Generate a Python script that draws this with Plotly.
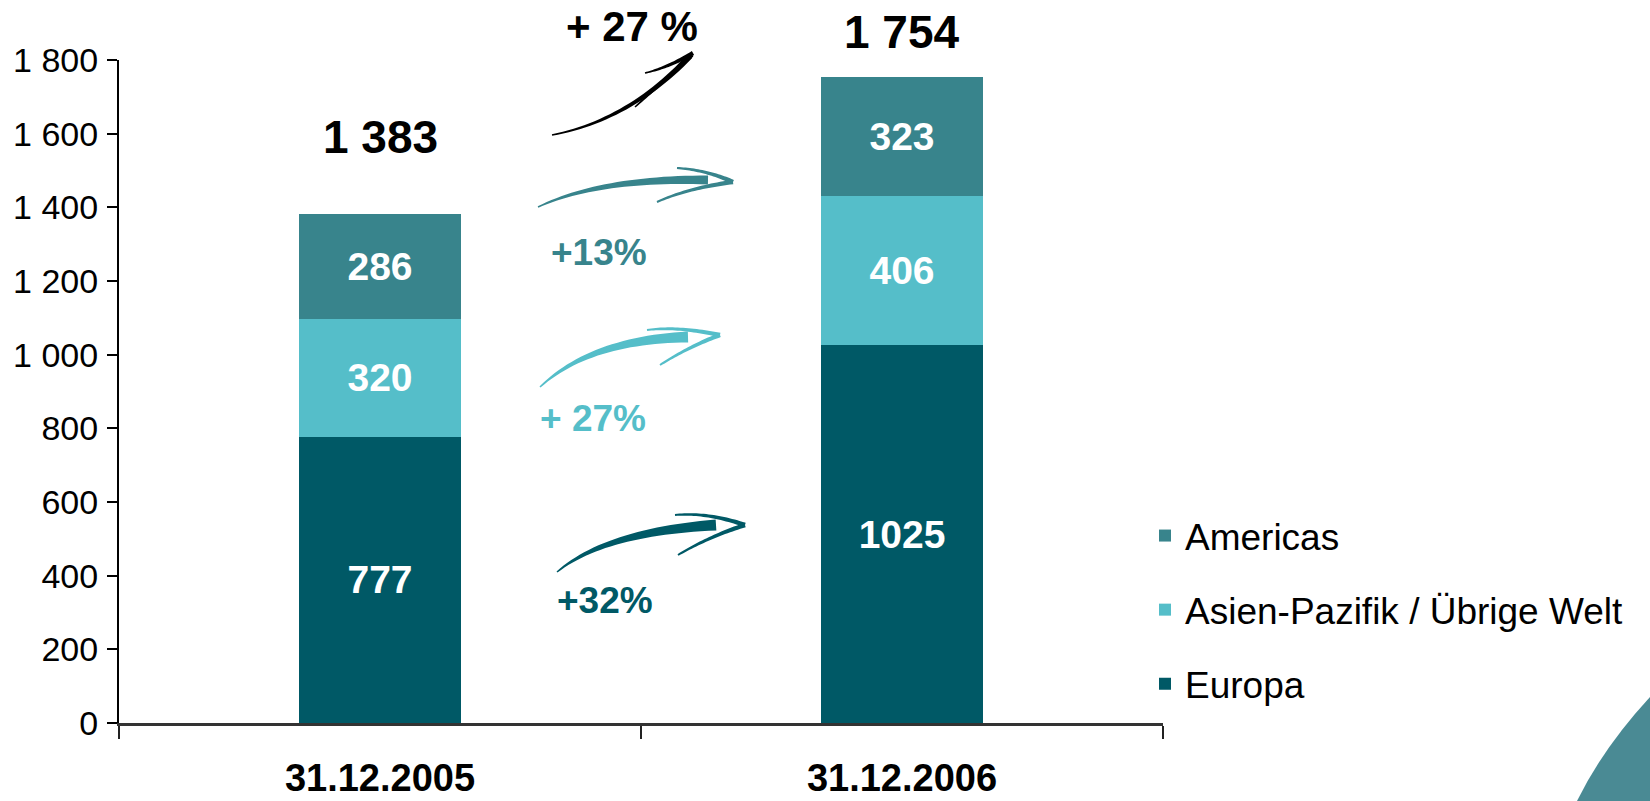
import plotly.graph_objects as go

# ---- data -------------------------------------------------------------
categories = ["31.12.2005", "31.12.2006"]
europa = [777, 1025]
asien = [320, 406]
americas = [286, 323]
series_names = ["Europa", "Asien-Pazifik / Übrige Welt", "Americas"]
y_tick_values = [0, 200, 400, 600, 800, 1000, 1200, 1400, 1600, 1800]
y_tick_labels = ["0", "200", "400", "600", "800", "1 000", "1 200", "1 400", "1 600", "1 800"]

# ---- style ------------------------------------------------------------
FONT = "Liberation Sans, Arial, sans-serif"
C_EUROPA = "#005966"
C_ASIEN = "#55bec9"
C_AMERICAS = "#38848c"
colors = [C_EUROPA, C_ASIEN, C_AMERICAS]
legend_ranks = [3, 2, 1]   # Americas listed first, Europa last

W, H = 1650, 801
L, R, T, B = 119, 487, 60, 78
PW, PH = W - L - R, H - T - B

x_pos = [0.5, 1.5]
totals = [e + a + m for e, a, m in zip(europa, asien, americas)]


def px(x, y):
    """pixel position -> paper coordinates"""
    return (x - L) / PW, (H - B - y) / PH


def taper(p0, c, p1, w0, w1, n=28):
    """filled, tapering stroke along a quadratic curve (pixel inputs)"""
    left, right = [], []
    for i in range(n + 1):
        t = i / n
        x = (1 - t) ** 2 * p0[0] + 2 * (1 - t) * t * c[0] + t ** 2 * p1[0]
        y = (1 - t) ** 2 * p0[1] + 2 * (1 - t) * t * c[1] + t ** 2 * p1[1]
        dx = 2 * (1 - t) * (c[0] - p0[0]) + 2 * t * (p1[0] - c[0])
        dy = 2 * (1 - t) * (c[1] - p0[1]) + 2 * t * (p1[1] - c[1])
        ln = (dx * dx + dy * dy) ** 0.5 or 1.0
        nx, ny = -dy / ln, dx / ln
        hw = (w0 + (w1 - w0) * t) / 2
        left.append((x + nx * hw, y + ny * hw))
        right.append((x - nx * hw, y - ny * hw))
    pts = left + right[::-1]
    pp = [px(*p) for p in pts]
    return "M " + " L ".join(f"{a:.5f},{b:.5f}" for a, b in pp) + " Z"


fig = go.Figure()
for vals, name, col, rk in zip([europa, asien, americas], series_names, colors, legend_ranks):
    fig.add_trace(go.Bar(
        x=x_pos, y=vals, name=name, width=0.312,
        marker=dict(color=col, line=dict(width=0)),
        text=[str(v) for v in vals], textposition="inside",
        insidetextanchor="middle", textangle=0,
        textfont=dict(family=FONT, size=39, color="white", weight="bold"),
        legendgroup=name, legendrank=rk, hoverinfo="skip",
    ))

annotations = []
# totals above bars
total_shift = [77, 45]
for xv, tot, sh in zip(x_pos, totals, total_shift):
    annotations.append(dict(
        x=xv, y=tot, xref="x", yref="y", yshift=sh, showarrow=False,
        text=f"{tot:,}".replace(",", " "),
        font=dict(family=FONT, size=46, color="black", weight="bold"),
    ))

# growth labels
def growth(a, b):
    return round((b / a - 1) * 100)

g_total = growth(totals[0], totals[1])
g_amer = growth(americas[0], americas[1])
g_asien = growth(asien[0], asien[1])
g_eur = growth(europa[0], europa[1])

growth_labels = [
    (f"+ {g_total} %", (632, 27), "black", 42),
    (f"+{g_amer}%", (599, 253), C_AMERICAS, 37),
    (f"+ {g_asien}%", (593, 418), C_ASIEN, 37),
    (f"+{g_eur}%", (605, 600), C_EUROPA, 37),
]
for txt, (gx, gy), col, sz in growth_labels:
    xp, yp = px(gx, gy)
    annotations.append(dict(
        x=xp, y=yp, xref="paper", yref="paper", showarrow=False,
        xanchor="center", yanchor="middle", text=txt,
        font=dict(family=FONT, size=sz, color=col, weight="bold"),
    ))

# hand-drawn style arrows
shapes = []
arrows = [
    # colour, body (p0, ctrl, p1, w0, w1), barbs [(p0, ctrl, p1, w0, w1)]
    ("black", ((552, 135), (630, 120), (690, 56), 1.5, 6),
     [((645, 73), (667, 68), (693, 53), 1.5, 4.5),
      ((635, 107), (665, 80), (692, 55), 1.5, 4)]),
    (C_AMERICAS, ((538, 207), (600, 178), (708, 180), 1.5, 9),
     [((677, 168), (707, 170), (733, 182), 2, 4.5),
      ((657, 202), (688, 188), (733, 182), 2, 4.5)]),
    (C_ASIEN, ((540, 387), (590, 340), (688, 337), 1.5, 11),
     [((647, 330), (677, 326), (720, 335), 2, 4.5),
      ((660, 365), (688, 347), (720, 335), 2, 4.5)]),
    (C_EUROPA, ((557, 572), (605, 532), (716, 525), 1.5, 11),
     [((675, 515), (707, 512), (745, 525), 2, 4.5),
      ((678, 555), (708, 537), (745, 525), 2, 4.5)]),
]
for col, body, barbs in arrows:
    for seg in [body] + barbs:
        shapes.append(dict(type="path", path=taper(*seg), xref="paper", yref="paper",
                           fillcolor=col, line=dict(width=0), layer="above"))

# corner swoosh
a0 = px(1577, 801)
a1 = px(1603, 748)
a2 = px(1650, 697)
a3 = px(1650, 801)
shapes.append(dict(
    type="path", xref="paper", yref="paper", layer="below",
    path=(f"M {a0[0]:.5f},{a0[1]:.5f} Q {a1[0]:.5f},{a1[1]:.5f} {a2[0]:.5f},{a2[1]:.5f} "
          f"L {a3[0]:.5f},{a3[1]:.5f} Z"),
    fillcolor="#4a8a94", line=dict(width=0),
))

fig.update_layout(
    width=W, height=H,
    margin=dict(l=L, r=R, t=T, b=B, pad=0, autoexpand=False),
    barmode="stack",
    paper_bgcolor="white", plot_bgcolor="white",
    font=dict(family=FONT, color="black"),
    showlegend=True,
    legend=dict(
        x=(1145 - L) / PW, xanchor="left",
        y=px(0, 505)[1], yanchor="top",
        traceorder="grouped", tracegroupgap=23,
        font=dict(family=FONT, size=37, color="black"),
        bgcolor="rgba(0,0,0,0)", borderwidth=0,
    ),
    xaxis=dict(
        range=[0, 2], showgrid=False, zeroline=False, automargin=False,
        showline=True, linecolor="#333333", linewidth=3,
        tickmode="array", tickvals=x_pos, ticktext=categories,
        ticks="outside", ticklen=0, ticklabelstandoff=19,
        tickfont=dict(family=FONT, size=38, color="black", weight="bold"),
        minor=dict(tickmode="array", tickvals=[0, 1, 2], ticks="outside",
                   ticklen=13, tickwidth=2, tickcolor="#222222"),
        fixedrange=True,
    ),
    yaxis=dict(
        range=[0, 1800], showgrid=False, zeroline=False, automargin=False,
        showline=True, linecolor="black", linewidth=2,
        tickmode="array", tickvals=y_tick_values, ticktext=y_tick_labels,
        ticks="outside", ticklen=10, tickwidth=2, tickcolor="black",
        ticklabelstandoff=2,
        tickfont=dict(family=FONT, size=34, color="black"),
        fixedrange=True,
    ),
    annotations=annotations,
    shapes=shapes,
)

fig.write_html("out.html", config={"displayModeBar": False})
